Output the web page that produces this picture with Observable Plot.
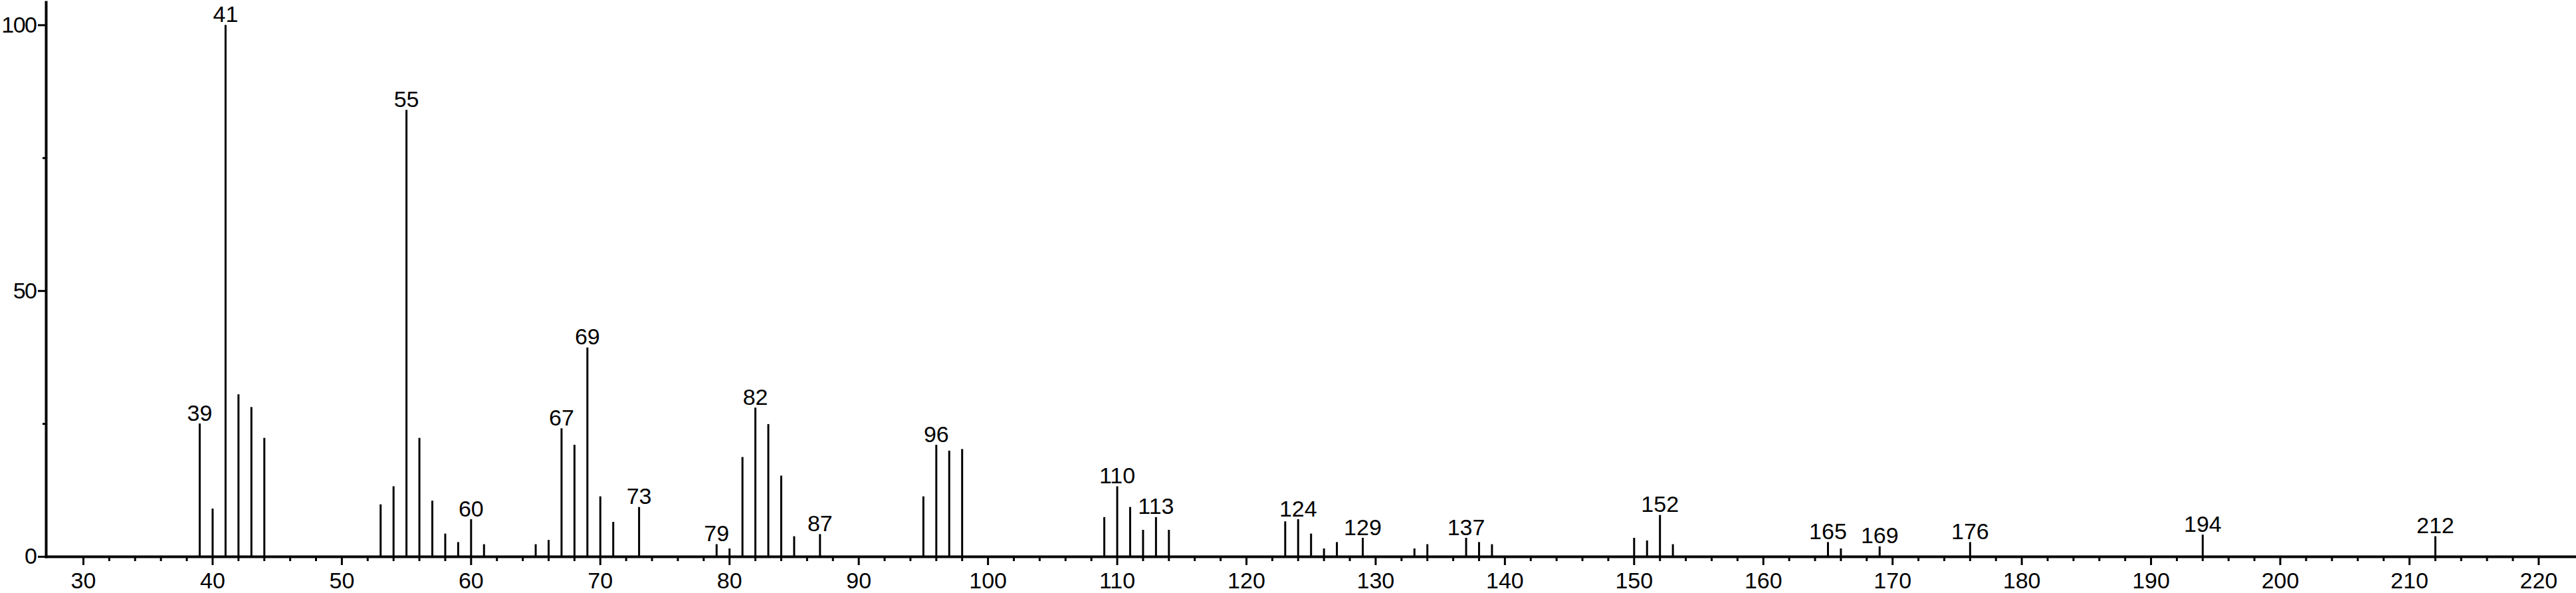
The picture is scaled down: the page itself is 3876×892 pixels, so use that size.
<!DOCTYPE html>
<html><head><meta charset="utf-8">
<script src="https://cdn.jsdelivr.net/npm/d3@7"></script>
<script src="https://cdn.jsdelivr.net/npm/@observablehq/plot@0.6"></script>
<style>html,body{margin:0;padding:0;background:#fff;} svg{display:block}</style>
</head><body><div id="chart"></div>
<script>
// m/z values of peaks
const mz = [39,40,41,42,43,44,53,54,55,56,57,58,59,60,61,65,66,67,68,69,70,71,73,79,80,81,82,83,84,85,87,95,96,97,98,109,110,111,112,113,114,123,124,125,126,127,129,133,134,137,138,139,150,151,152,153,165,166,169,176,194,212];
// relative intensities (%)
const intensity = [25.0,9.0,100,30.5,28.1,22.3,9.8,13.2,84.0,22.3,10.5,4.3,2.7,7.0,2.3,2.3,3.1,24.1,21.0,39.3,11.3,6.5,9.3,2.3,1.5,18.7,28.0,24.9,15.2,3.8,4.2,11.3,21.0,19.9,20.2,7.4,13.2,9.3,5.0,7.4,5.0,6.6,7.0,4.3,1.5,2.7,3.5,1.5,2.3,3.5,2.7,2.3,3.5,3.0,7.8,2.3,2.7,1.5,1.9,2.7,4.1,3.8];
// peaks carrying a label
const labeled = [39,41,55,60,67,69,73,79,82,87,96,110,113,124,129,137,152,165,169,176,194,212];
// axis ticks
const xMajor = d3.range(30, 221, 10);
const xMinor = d3.range(32, 219, 2).filter(v => v % 10 !== 0);
const yMajor = [0, 50, 100];
const yMinor = [25, 75];
const xDomain = [27.12, 222.86];
const yDomain = [0, 104.3];

const data = mz.map((m, i) => ({mz: m, I: intensity[i]}));
const labels = data.filter(d => labeled.includes(d.mz));

const plot = Plot.plot({
  width: 3876, height: 892,
  marginLeft: 69, marginRight: 1, marginTop: 3, marginBottom: 55,
  x: {domain: xDomain},
  y: {domain: yDomain},
  style: {fontFamily: "'Liberation Sans', Arial, sans-serif", fontSize: "34px", color: "#000", background: "#fff"},
  marks: [
    Plot.ruleX(data, {x: "mz", y1: 0, y2: "I", stroke: "#000", strokeWidth: 3}),
    Plot.axisX({ticks: xMinor, tickSize: 7, tickFormat: () => "", strokeWidth: 3, label: null}),
    Plot.axisX({ticks: xMajor, tickSize: 13, tickPadding: 10, strokeWidth: 3, label: null, fontSize: 34}),
    Plot.axisY({ticks: yMinor, tickSize: 5, tickFormat: () => "", strokeWidth: 3, label: null}),
    Plot.axisY({ticks: yMajor, tickSize: 12, tickPadding: 3, strokeWidth: 3, label: null, fontSize: 34, ariaLabel: "y-major"}),
    Plot.frame({anchor: "bottom", stroke: "#000", strokeWidth: 4}),
    Plot.frame({anchor: "left", stroke: "#000", strokeWidth: 4}),
    Plot.text(labels, {x: "mz", y: "I", text: d => String(d.mz), lineAnchor: "bottom", dy: -5, fontSize: 34, fill: "#000"})
  ]
});
d3.select(plot).selectAll("text").filter(function() {
  return this.closest("g") && /y-major/.test(this.closest("g").getAttribute("aria-label") || "");
}).attr("letter-spacing", "-1.5px");
document.getElementById("chart").appendChild(plot);
</script>
</body></html>
